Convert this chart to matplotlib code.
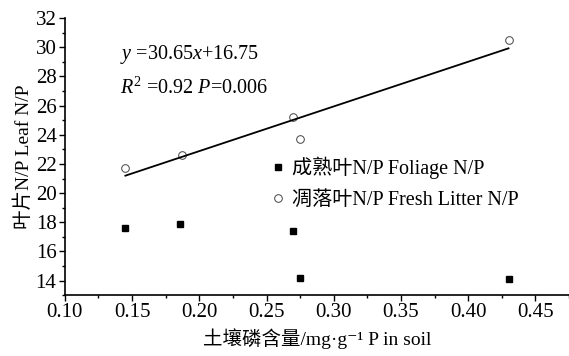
import matplotlib.pyplot as plt
from matplotlib.ticker import MultipleLocator

plt.rcParams['font.family'] = ['Liberation Serif', 'DejaVu Serif', 'Noto Sans CJK SC']
plt.rcParams['mathtext.fontset'] = 'custom'
plt.rcParams['mathtext.rm'] = 'Liberation Serif'
plt.rcParams['mathtext.it'] = 'Liberation Serif:italic'

# 土壤磷含量
soil_p = [0.145, 0.186, 0.270, 0.275, 0.430]
# 成熟叶 N/P
foliage_np = [17.6, 17.9, 17.4, 14.2, 14.1]
# 凋落叶 N/P
soil_p_litter = [0.145, 0.187, 0.270, 0.275, 0.430]
litter_np = [21.7, 22.6, 25.2, 23.7, 30.5]

slope, intercept = 30.65, 16.75
fit_x = [0.145, 0.430]
fit_y = [slope * v + intercept for v in fit_x]

fig = plt.figure(figsize=(5.69, 3.56), dpi=100)
ax = fig.add_axes([0.114, 0.171, 0.886, 0.778])

ax.plot(soil_p, foliage_np, linestyle='none', marker='s', markersize=5,
        color='black', label='成熟叶N/P Foliage N/P')
ax.plot(soil_p_litter, litter_np, linestyle='none', marker='o', markersize=5.5,
        markerfacecolor='white', markeredgecolor='#444444', markeredgewidth=0.7,
        label='凋落叶N/P Fresh Litter N/P')
ax.plot(fit_x, fit_y, color='black', linewidth=1.3)

ax.set_xlim(0.10, 0.475)
ax.set_ylim(13.0, 32)
ax.xaxis.set_major_locator(MultipleLocator(0.05))
ax.xaxis.set_minor_locator(MultipleLocator(0.025))
ax.yaxis.set_major_locator(MultipleLocator(2))
ax.yaxis.set_minor_locator(MultipleLocator(1))
ax.xaxis.set_major_formatter(plt.FormatStrFormatter('%.2f'))
ax.tick_params(which='major', direction='out', length=4, width=1, labelsize=15, pad=2)
ax.tick_params(which='minor', direction='out', length=2.5, width=1)

for s in ['top', 'right']:
    ax.spines[s].set_visible(False)
for s in ['left', 'bottom']:
    ax.spines[s].set_linewidth(1.2)

ax.set_xlabel('土壤磷含量/mg·g⁻¹ P in soil', fontsize=14, labelpad=4)
ax.set_ylabel('叶片N/P Leaf N/P', fontsize=14, labelpad=2)

ax.text(0.141, 29.5, '$y$ =30.65$x$+16.75', fontsize=14.5, va='center')
ax.text(0.141, 27.2, '$R^2$ =0.92 $P$=0.006', fontsize=14.5, va='center')

ax.legend(loc='upper left', bbox_to_anchor=(0.395, 0.53), frameon=False,
          fontsize=14.5, handlelength=0.6, handletextpad=0.4, labelspacing=0.6,
          borderaxespad=0)

fig.savefig('out.png', dpi=100)
